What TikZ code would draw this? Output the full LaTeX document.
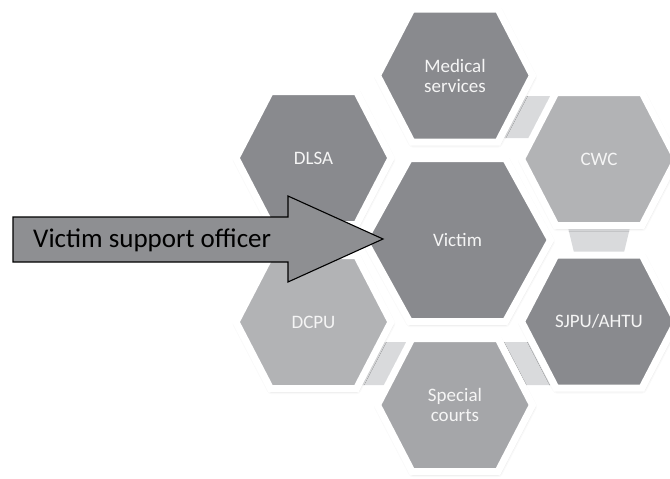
\documentclass[tikz,border=0pt]{standalone}
\usepackage{fontspec}
\setmainfont{Carlito}
\usetikzlibrary{shadows.blur}

\definecolor{hexdark}{HTML}{898A8E}
\definecolor{hexlight}{HTML}{B2B3B5}
\definecolor{hexmid}{HTML}{A5A6A9}
\definecolor{bandgray}{HTML}{D9DADC}
\definecolor{arrowgray}{HTML}{8E8F92}
\definecolor{labelwhite}{HTML}{F5F5F5}

\tikzset{
  hexring/.style={draw=white, line width=7pt, line join=miter,
    blur shadow={shadow xshift=0.5pt, shadow yshift=-1.5pt,
                 shadow blur radius=4pt, shadow opacity=35}},
  hexlabel/.style={text=labelwhite, font=\fontsize{19}{20}\selectfont,
    align=center, inner sep=0pt},
  band/.style={fill=bandgray},
  pointer/.style={fill=arrowgray, draw=black, line width=1.1pt, line join=miter},
  pointerlabel/.style={font=\fontsize{27}{30}\selectfont, text=black,
    anchor=base west, inner sep=0pt}
}

% Flat-topped hexagon cell with a white rim and a centred label.
% #1 name, #2 x, #3 y, #4 half width, #5 half top edge, #6 half height,
% #7 fill colour, #8 label
\newcommand{\hexcell}[8]{%
  \path[hexring, fill=#7]
    ({#2-#4},#3) -- ({#2-#5},{#3-#6}) -- ({#2+#5},{#3-#6}) --
    ({#2+#4},#3) -- ({#2+#5},{#3+#6}) -- ({#2-#5},{#3+#6}) -- cycle;
  \node[hexlabel] (#1) at (#2,#3) {#8};
}

\begin{document}
\begin{tikzpicture}[x=1pt, y=-1pt]
  \useasboundingbox (0,0) rectangle (670,479);
  \clip (0,0) rectangle (670,479);

  % light bands linking neighbouring outer cells
  \fill[band] (508,96) -- (566,96) -- (545,138) -- (490,138) -- cycle;
  \fill[band] (565,215) -- (633,215) -- (621,265) -- (577,265) -- cycle;
  \fill[band] (490,342) -- (545,342) -- (568,385) -- (512,385) -- cycle;
  \fill[band] (370,342) -- (420,342) -- (398,385) -- (348,385) -- cycle;

  % outer ring of cells
  \hexcell{medical}{455}{75.5}{77.5}{43}{66.5}{hexdark}{Medical\\services}
  \hexcell{dlsa}{313.5}{158}{77.5}{43}{66.5}{hexdark}{DLSA}
  \hexcell{cwc}{599}{159}{77.5}{43}{66.5}{hexlight}{CWC}
  \hexcell{dcpu}{313.5}{322}{77.5}{43}{66.5}{hexlight}{DCPU}
  \hexcell{sjpu}{599}{321.5}{77.5}{43}{66.5}{hexdark}{SJPU/AHTU}
  \hexcell{courts}{455}{405}{77.5}{43}{66.5}{hexmid}{Special\\courts}

  % central cell
  \hexcell{victim}{457.5}{240}{93}{48}{81.5}{hexdark}{Victim}

  % block arrow pointing at the centre
  \path[pointer] (13,217) -- (288,217) -- (288,196) -- (383,239) --
    (288,282) -- (288,262) -- (13,262) -- cycle;
  \node[pointerlabel] (vso) at (33,247) {Victim support officer};
\end{tikzpicture}
\end{document}
